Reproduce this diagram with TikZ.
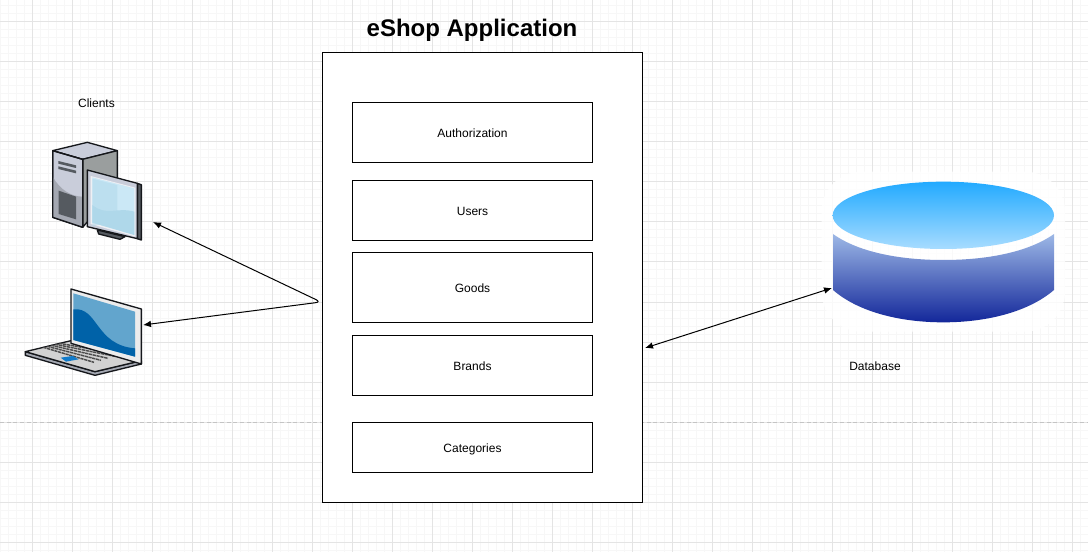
\documentclass[tikz,border=0pt]{standalone}
\usepackage{fontspec}
\usetikzlibrary{arrows.meta}
\setmainfont{Liberation Sans}
\definecolor{gridmajor}{HTML}{E4E4E4}
\definecolor{gridminor}{HTML}{F7F7F7}
\definecolor{gridpage}{HTML}{C4C4C4}
\definecolor{dbtop1}{HTML}{22AAFF}
\definecolor{dbtop2}{HTML}{A8DCFF}
\definecolor{dbside1}{HTML}{9DB8E6}
\definecolor{dbside2}{HTML}{13279A}
\definecolor{case1}{HTML}{C9CDDA}
\definecolor{case2}{HTML}{A4A8B2}
\definecolor{case3}{HTML}{9A9E9E}
\definecolor{case4}{HTML}{555A60}
\definecolor{edge1}{HTML}{15171B}
\definecolor{screen1}{HTML}{CBE8F6}
\definecolor{screen2}{HTML}{AFD8EA}
\definecolor{lcd1}{HTML}{62A5CD}
\definecolor{lcd2}{HTML}{0062A8}
\tikzset{
  modulebox/.style={draw,fill=white,minimum width=180pt,line width=.75pt,inner sep=0pt},
  boxlabel/.style={font=\fontsize{9}{11}\selectfont,text height=7pt,text depth=.2pt},
  plainlabel/.style={font=\fontsize{9}{11}\selectfont,inner sep=0pt},
  link/.style={line width=.75pt,{Latex[length=6pt,width=5pt]}-{Latex[length=6pt,width=5pt]}},
  icon/.style={x=.25pt,y=-.25pt,draw=edge1,line width=1pt,line join=round}
}
\begin{document}
\begin{tikzpicture}[x=.75pt,y=-.75pt]
\useasboundingbox (0,0) rectangle (1088,552);

% Grid:
\fill[white] (0,0) rectangle (1088,552);
\foreach \n in {0,...,136}{%
    \draw [gridminor,line width=.75pt] (\n*8,0) -- (\n*8,552);
}
\foreach \n in {0,...,69}{%
    \draw [gridminor,line width=.75pt] (0,\n*8+6) -- (1088,\n*8+6);
}
\foreach \n in {0,...,26}{%
    \draw [gridmajor,line width=.75pt] (\n*40+32,0) -- (\n*40+32,552);
}
\foreach \n in {0,...,13}{%
    \draw [gridmajor,line width=.75pt] (0,\n*40+22) -- (1088,\n*40+22);
}
\draw [gridpage,dashed,line width=.75pt,dash pattern=on 3pt off 2pt] (0,422) -- (1088,422);

% Application:
\node [plainlabel,font=\bfseries\fontsize{18}{20}\selectfont] (title) at (472,30) {eShop Application};
\node [modulebox,minimum width=240pt,minimum height=336.75pt] (eshop) at (482.5,277.5) {};
\node [modulebox,boxlabel,minimum height=45pt] (auth) at (472.5,132.5) {Authorization};
\node [modulebox,boxlabel,minimum height=45pt] (users) at (472.5,210.5) {Users};
\node [modulebox,boxlabel,minimum height=52.5pt] (goods) at (472.5,287.5) {Goods};
\node [modulebox,boxlabel,minimum height=45pt] (brands) at (472.5,365.5) {Brands};
\node [modulebox,boxlabel,minimum height=37.5pt] (categories) at (472.5,447.5) {Categories};

% Labels:
\node [plainlabel] (clients) at (96.5,103) {Clients};
\node [plainlabel] (database) at (875,366) {Database};

% Desktop (crop units, a third of a pixel):
\begin{scope}[shift={(0pt,-60pt)},icon]
\filldraw [fill=case1] (158,212) -- (262,187) -- (352,212) -- (248,238) -- cycle;
\filldraw [fill=case3] (248,238) -- (352,212) -- (352,320) -- (248,442) -- cycle;
\filldraw [fill=case1] (158,212) -- (248,238) -- (248,442) -- (158,412) -- cycle;
\fill [case2] (158,290) .. controls (180,330) and (215,350) .. (248,350) -- (248,442) -- (158,412) -- cycle;
\draw (158,212) -- (248,238) -- (248,442) -- (158,412) -- cycle;
\fill [case4] (176,332) -- (228,350) -- (228,418) -- (176,402) -- cycle;
\fill [case4] (175,243) -- (228,256) -- (228,264) -- (175,251) -- cycle;
\fill [case4] (175,259) -- (228,272) -- (228,280) -- (175,267) -- cycle;
\filldraw [fill=case4] (292,450) -- (375,470) -- (360,478) -- (296,462) -- cycle;
\filldraw [fill=case4] (412,310) -- (424,314) -- (424,480) -- (412,476) -- cycle;
\filldraw [fill=case1] (262,270) -- (412,310) -- (412,476) -- (262,440) -- cycle;
\fill [white!70!case1] (272,288) -- (406,323) -- (406,470) -- (272,432) -- cycle;
\fill [screen1] (277,292) -- (403,325) -- (403,465) -- (277,428) -- cycle;
\fill [screen2] (277,375) .. controls (320,410) and (350,380) .. (403,395) -- (403,465) -- (277,428) -- cycle;
\fill [screen2,opacity=.5] (277,296) -- (352,315) -- (352,420) -- (277,440) -- cycle;
\end{scope}

% Laptop:
\begin{scope}[shift={(0pt,-60pt)},icon]
\filldraw [fill=case2] (76,815) -- (76,826) -- (285,886) -- (424,852) -- (424,842) -- (285,875) -- cycle;
\filldraw [fill=gray!35] (76,815) -- (213,782) -- (424,842) -- (285,875) -- cycle;
\foreach \n in {0,...,4}{%
    \draw [gray!140,line width=1.1pt,dash pattern=on 2.4pt off .5pt]
      (130+\n*12,802-\n*3) -- (282+\n*21,847-\n*6);
}
\fill [cyan!60!blue] (182,833) -- (218,828) -- (236,838) -- (198,845) -- cycle;
\filldraw [fill=gray!15] (213,627) -- (424,687) -- (424,852) -- (213,790) -- cycle;
\fill [lcd1] (220,640) -- (405,695) -- (405,830) -- (220,780) -- cycle;
\fill [lcd2] (220,688) .. controls (295,680) and (285,795) .. (405,805) -- (405,830) -- (220,780) -- cycle;
\end{scope}

% Database:
\begin{scope}[shift={(472.5pt,-120pt)},x=.25pt,y=-.25pt]
\fill [white,opacity=.8,rounded corners=30pt] (575,35) rectangle (1305,515);
\shade [top color=dbside1,bottom color=dbside2] (609,222) .. controls (690,280) and (820,300) .. (940,300)
  .. controls (1060,300) and (1190,280) .. (1272,222) -- (1272,390) .. controls (1190,460) and (1060,487) .. (940,487)
  .. controls (820,487) and (690,460) .. (609,390) -- cycle;
\shade [top color=dbtop1,bottom color=dbtop2] (940,166) ellipse [x radius=332,y radius=101];
\end{scope}

% Connectors:
\coordinate (desktop_in) at (153,222);
\coordinate (laptop_in) at (143,325);
\coordinate (fork) at (321,302);
\coordinate (eshop_db) at (645,348);
\coordinate (db_in) at (832,288);
\draw [link,rounded corners=4pt] (desktop_in) -- (fork) -- (laptop_in);
\draw [link] (eshop_db) -- (db_in);
\end{tikzpicture}
\end{document}
